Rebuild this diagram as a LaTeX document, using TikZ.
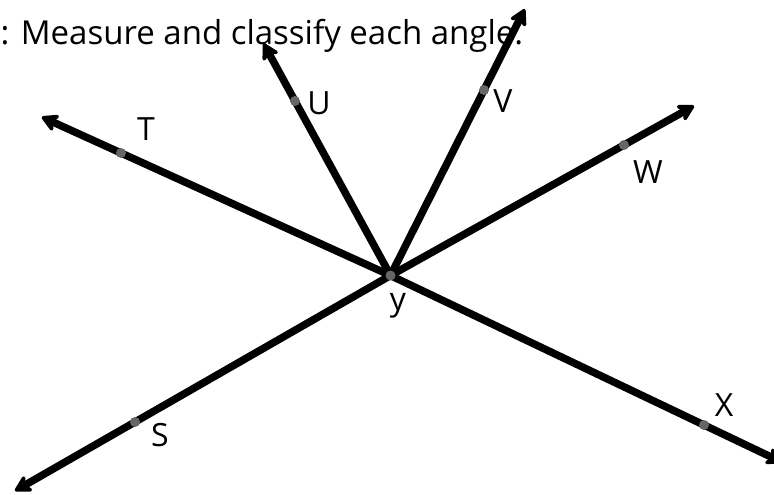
\documentclass[tikz,border=0pt]{standalone}
\usepackage{fontspec}
\setmainfont{Open Sans}
\usetikzlibrary{arrows.meta,calc}
\begin{document}
\begin{tikzpicture}[x=1pt,y=-1pt,
  ray/.style={line width=7.5pt,-{Stealth[length=20pt,width=22pt,inset=6pt,round]}},
  pt/.style={circle,fill=black!60,inner sep=0pt,minimum size=10pt},
  lbl/.style={font=\fontsize{32}{36}\selectfont,inner sep=0pt},
  title/.style={font=\fontsize{33}{38}\selectfont,inner sep=0pt}]
\useasboundingbox (0,0) rectangle (774,495);
\node[title,anchor=base west] (title) at (0.5,45) {: Measure and classify each angle.};
\coordinate (Y) at (390.5,275.5);
\coordinate (Tp) at (121,153);
\coordinate (Up) at (295,101);
\coordinate (Vp) at (484,90);
\coordinate (Wp) at (624,145);
\coordinate (Xp) at (704,425);
\coordinate (Sp) at (135,422);
\coordinate (Tt) at ($(Y)!1.294!(Tp)$);
\coordinate (Ut) at ($(Y)!1.33!(Up)$);
\coordinate (Vt) at ($(Y)!1.436!(Vp)$);
\coordinate (Wt) at ($(Y)!1.30!(Wp)$);
\coordinate (Xt) at ($(Y)!1.25!(Xp)$);
\coordinate (St) at ($(Y)!1.47!(Sp)$);
\foreach \t in {Tt,Ut,Vt,Wt,Xt,St} \draw[ray] (Y) -- (\t);
\foreach \p in {Tp,Up,Vp,Wp,Xp,Sp,Y} \node[pt] at (\p) {};
\node[lbl] (lT) at (146,129) {T};
\node[lbl] (lU) at (319,103) {U};
\node[lbl] (lV) at (503,101) {V};
\node[lbl] (lW) at (648,172) {W};
\node[lbl] (lX) at (724,405) {X};
\node[lbl] (lS) at (160,435) {S};
\node[lbl] (lY) at (398,306) {y};
\end{tikzpicture}
\end{document}
